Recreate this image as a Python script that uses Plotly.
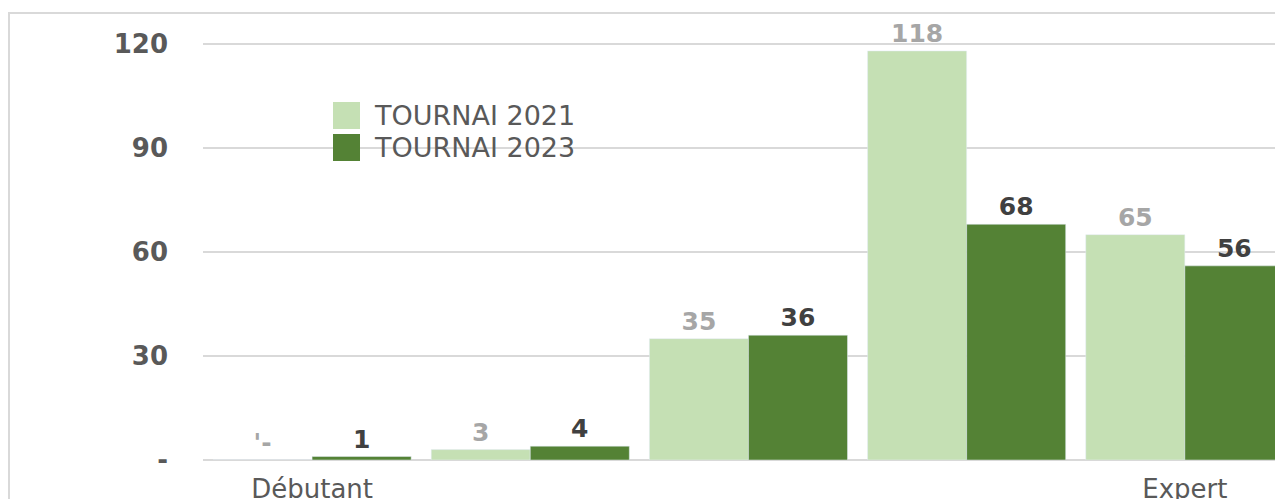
import plotly.graph_objects as go

# ---- data ----
categories = ["Débutant", "", "", "", "Expert"]
series_names = ["TOURNAI 2021", "TOURNAI 2023"]
values_2021 = [0, 3, 35, 118, 65]
values_2023 = [1, 4, 36, 68, 56]
y_tick_vals = [0, 30, 60, 90, 120]
y_tick_text = ["-", "30", "60", "90", "120"]

# ---- style ----
LIGHT = "#C5E0B4"
DARK = "#548235"
GRID = "#D9D9D9"
AXIS_TXT = "#595959"
FONT = "Verdana, DejaVu Sans, sans-serif"

OFF = 8                      # default page body margin
W, H = 1283 - OFF, 499 - OFF
# plot area in window pixels: left 203, right 1283, top 40, bottom 460
TOP_W, BOT_W = 40, 460
PX_PER_UNIT = (460 - 44) / 120.0
Y_MAX = (BOT_W - TOP_W) / PX_PER_UNIT
L, R, T, B = 203 - OFF, 0, TOP_W - OFF, 499 - BOT_W
PW = W - L - R
PH = H - T - B


def px_x(wx):
    return (wx - OFF - L) / PW


def px_y(wy):
    return (BOT_W - wy) / PH


def lab(v):
    return "'-" if v == 0 else str(v)


x_idx = list(range(len(categories)))

fig = go.Figure()
fig.add_trace(go.Bar(
    x=x_idx, y=values_2021, name=series_names[0], marker_color=LIGHT,
    text=[lab(v) for v in values_2021], textposition="outside",
    textfont=dict(family=FONT, size=25, color="#A6A6A6", weight="bold"),
    cliponaxis=False, constraintext="none", showlegend=False,
))
fig.add_trace(go.Bar(
    x=x_idx, y=values_2023, name=series_names[1], marker_color=DARK,
    text=[lab(v) for v in values_2023], textposition="outside",
    textfont=dict(family=FONT, size=25, color="#404040", weight="bold"),
    cliponaxis=False, constraintext="none", showlegend=False,
))

shapes = [
    # outer chart border (cropped at right and bottom)
    dict(type="rect", xref="paper", yref="paper",
         x0=px_x(9), x1=px_x(1283 + 20), y0=px_y(499 + 20), y1=px_y(13),
         line=dict(color=GRID, width=2), fillcolor="rgba(0,0,0,0)", layer="below"),
]
annotations = []
legend_rows = [(series_names[0], LIGHT, 102), (series_names[1], DARK, 134)]
for name, col, top in legend_rows:
    shapes.append(dict(type="rect", xref="paper", yref="paper",
                       x0=px_x(333), x1=px_x(360), y0=px_y(top + 27), y1=px_y(top),
                       line=dict(width=0), fillcolor=col))
    annotations.append(dict(xref="paper", yref="paper", x=px_x(372), y=px_y(top + 13.5),
                            xanchor="left", yanchor="middle", showarrow=False,
                            text=name, font=dict(family=FONT, size=27, color=AXIS_TXT)))

fig.update_layout(
    width=W, height=H,
    margin=dict(l=L, r=R, t=T, b=B, pad=0, autoexpand=False),
    paper_bgcolor="white", plot_bgcolor="white",
    barmode="group", bargap=0.092, bargroupgap=0,
    shapes=shapes, annotations=annotations,
    showlegend=False,
    font=dict(family=FONT, color=AXIS_TXT),
)
fig.update_xaxes(
    range=[-0.5, 4.45], tickmode="array", tickvals=[0, 4],
    ticktext=[categories[0], categories[4]],
    showgrid=False, zeroline=False, showline=False, ticks="",
    tickfont=dict(family=FONT, size=26, color=AXIS_TXT),
    ticklabelstandoff=11, automargin=False,
)
fig.update_yaxes(
    range=[0, Y_MAX], tickmode="array", tickvals=y_tick_vals, ticktext=y_tick_text,
    showgrid=True, gridcolor=GRID, gridwidth=2,
    zeroline=True, zerolinecolor=GRID, zerolinewidth=2,
    showline=False, ticks="",
    tickfont=dict(family=FONT, size=26, color=AXIS_TXT, weight="bold"),
    ticklabelstandoff=34, automargin=False,
)

fig.write_html("out.html")
